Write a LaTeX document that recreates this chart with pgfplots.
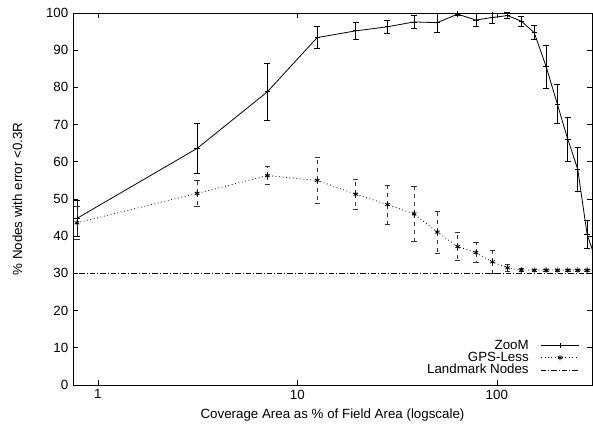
\documentclass[border=0pt]{standalone}
\usepackage{fontspec}
\setmainfont{Liberation Sans}
\usepackage{pgfplots}
\pgfplotsset{compat=1.18}

\begin{document}
\begin{tikzpicture}

\begin{axis}[
  scale only axis,
  width=389.25pt, height=279pt,
  xmode=log,
  log basis x={10},
  xmin=0.75, xmax=300,
  ymin=0, ymax=100,
  xtick={1,10,100},
  xticklabels={1,10,100},
  ytick={0,10,...,100},
  tick align=inside,
  major tick length=3.75pt,
  minor tick length=2pt,
  tick style={black, line width=0.5pt},
  axis line style={line width=0.6pt},
  /pgf/number format/assume math mode=true,
  xlabel={Coverage Area as \% of Field Area (logscale)},
  ylabel={\% Nodes with error <0.3R},
  xlabel style={yshift=-0.5pt},
  ylabel style={yshift=11pt},
  legend cell align={right},
  legend plot pos=right,
  legend style={
    draw=none, fill=none,
    at={(rel axis cs:0.984,0.01)},
    anchor=south east,
    row sep=-3.5pt,
    column sep=7pt,
    font=\fontsize{10}{10}\selectfont,
  },
  legend image code/.code={
    \draw[mark repeat=2, mark phase=2, #1]
      plot coordinates {(0cm,0cm) (0.5cm,0cm) (1.0cm,0cm)};
  },
]

\addplot [black, line width=0.6pt, mark=+, mark size=2pt,
  error bars/.cd, y dir=both, y explicit,
  error bar style={black, line width=0.6pt},
  error mark options={black, rotate=90, mark size=2.25pt, line width=0.6pt}]
table [x=x, y=y, y error=e] {
x y e
0.785 44.8 4.9
3.142 63.6 6.6
7.069 78.8 7.6
12.566 93.4 3.0
19.635 95.2 2.2
28.274 96.3 1.7
38.485 97.6 1.8
50.265 97.4 2.6
63.617 99.7 0.3
78.540 98.1 1.8
95.033 98.8 1.5
113.097 99.3 0.8
132.732 97.8 1.4
153.938 94.7 1.9
176.715 85.6 5.8
201.062 75.5 5.3
226.980 66.0 5.9
254.469 58.0 5.9
283.529 40.5 3.8
314.159 33.5 3.5
};
\addlegendentry{ZooM}

\addplot [black, line width=0.6pt, dotted, mark=asterisk, mark size=2pt,
  mark options={solid},
  error bars/.cd, y dir=both, y explicit,
  error bar style={black!80, dashed, line width=0.6pt},
  error mark options={black!80, rotate=90, mark size=2pt, line width=0.6pt, solid}]
table [x=x, y=y, y error=e] {
x y e
0.785 43.6 4.5
3.142 51.5 3.6
7.069 56.3 2.5
12.566 55.0 6.1
19.635 51.3 4.0
28.274 48.5 5.2
38.485 46.0 7.5
50.265 41.1 5.6
63.617 37.2 3.8
78.540 35.6 2.6
95.033 33.1 3.2
113.097 31.5 1.0
132.732 30.9 0.4
153.938 30.9 0.3
176.715 30.9 0.3
201.062 30.9 0.3
226.980 30.9 0.3
254.469 30.9 0.3
283.529 30.9 0.3
314.159 30.9 0.3
};
\addlegendentry{GPS-Less}

\addplot [black, line width=0.5pt, dash pattern=on 4pt off 1.5pt on 0.8pt off 1.5pt]
coordinates {(0.5,30) (400,30)};
\addlegendentry{Landmark Nodes}

\coordinate (bl) at (rel axis cs:0,0);
\end{axis}

\pgfresetboundingbox
\path[use as bounding box] (bl) ++(-54.75pt,-33pt) rectangle ++(444.75pt,321.75pt);

\end{tikzpicture}
\end{document}
